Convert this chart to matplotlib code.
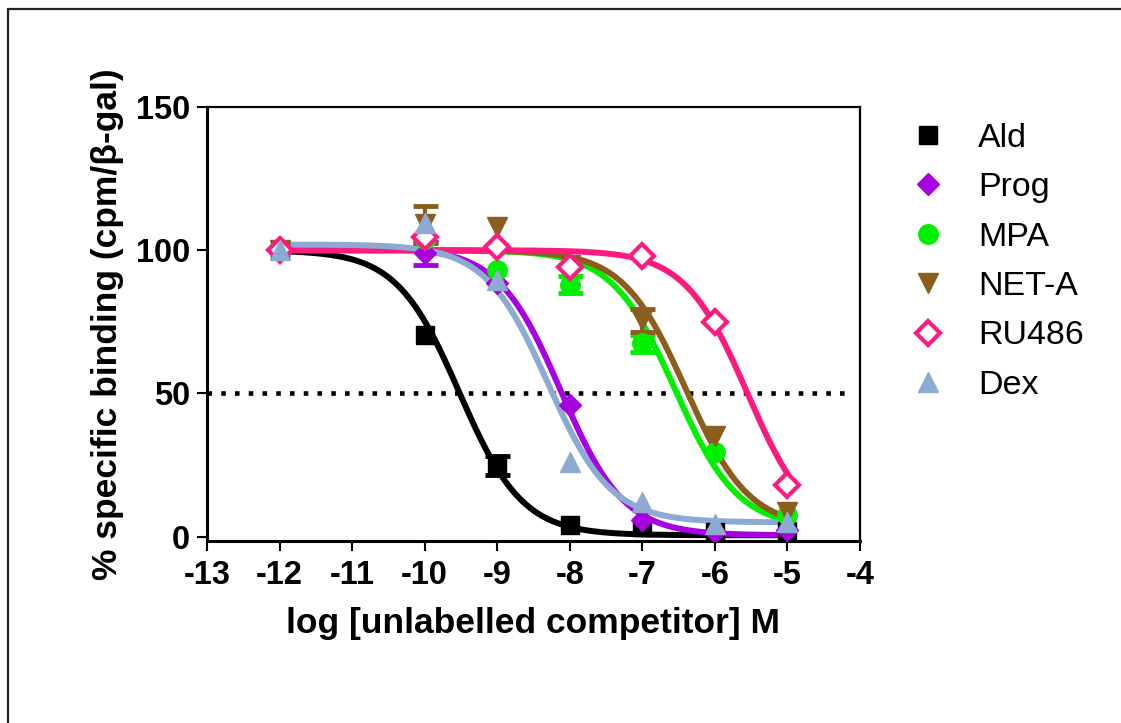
import numpy as np
import matplotlib
matplotlib.use("Agg")
import matplotlib.pyplot as plt
from matplotlib.lines import Line2D
from matplotlib.patches import Rectangle

plt.rcParams['font.family'] = ['Liberation Sans', 'DejaVu Sans']

# log concentration of competitor
log_conc = [-12, -10, -9, -8, -7, -6, -5]

names = ["Ald", "Prog", "MPA", "NET-A", "RU486", "Dex"]

ald = [100, 70.5, 25, 4, 3.5, 1.5, 2]
prog = [100, 99, 88.5, 46, 6, 1.7, 2.4]
mpa = [100, 104, 93, 88, 67.5, 29.5, 7.5]
neta = [100, 109, 108, 95, 75.5, 35, 8.7]
ru486 = [100, 104.5, 101, 94, 98, 75, 18]
dex = [100, 109.5, 89.5, 26, 12, 4.5, 5]

ald_err = [0, 0, 3.3, 0, 0, 0, 0]
prog_err = [0, 4, 0, 0, 0, 0, 0]
mpa_err = [0, 0, 0, 3, 3, 0, 0]
neta_err = [0, 6.5, 0, 0, 4, 0, 0]
ru486_err = [0, 0, 0, 0, 0, 0, 0]
dex_err = [0, 0, 0, 0, 0, 0, 0]

# one-site competition fit parameters (top, bottom, logIC50)
fit_top = [100, 101, 100, 100, 100, 102]
fit_bottom = [0.5, 0.5, 3, 3, 0, 5]
fit_logic50 = [-9.52, -8.12, -6.55, -6.4, -5.55, -8.3]

colors = ["black", "#A800E0", "#00F000", "#8C5E1E", "#FF1A80", "#8CAAD2"]
markers = ["s", "D", "o", "v", "D", "^"]
msizes = [12.5, 11.5, 14, 15, 12.5, 15]
filled = [True, True, True, True, False, True]

W, H = 1121, 723
fig = plt.figure(figsize=(W / 100, H / 100), dpi=100)
ax = fig.add_axes([207 / W, 1 - 541 / H, (860 - 207) / W, (541 - 107) / H])

series = [ald, prog, mpa, neta, ru486, dex]
errs = [ald_err, prog_err, mpa_err, neta_err, ru486_err, dex_err]

xx = np.linspace(-12, -5, 300)
for i, name in enumerate(names):
    c = colors[i]
    yfit = fit_bottom[i] + (fit_top[i] - fit_bottom[i]) / (1 + 10 ** (xx - fit_logic50[i]))
    ax.plot(xx, yfit, color=c, lw=4.3, zorder=2 + i * 0.1)
    e = np.array(errs[i])
    ax.errorbar(log_conc, series[i], yerr=np.where(e > 0, e, np.nan), fmt="none",
                ecolor=c, elinewidth=3, capsize=9, capthick=3.5, zorder=3 + i * 0.1)
    ax.plot(log_conc, series[i], ls="none", marker=markers[i], ms=msizes[i],
            color=c, mfc=c if filled[i] else "white", mec=c,
            mew=3 if not filled[i] else 1, zorder=4 + i * 0.1)

# 50% line
ax.plot([-13, -4.2], [50, 50], color="black", lw=3.3, ls=(0, (1, 2)), zorder=1)

ax.set_xlim(-13, -4)
ax.set_ylim(-1.5, 150)
ax.set_xticks(range(-13, -3))
ax.set_xticklabels([str(v) for v in range(-13, -3)])
ax.set_yticks([0, 50, 100, 150])
for s in ["left", "bottom"]:
    ax.spines[s].set_linewidth(2.2)
for s in ["top", "right"]:
    ax.spines[s].set_linewidth(1.6)
ax.tick_params(axis="both", direction="out", length=7, width=1.5, labelsize=23.5, pad=5)
ax.tick_params(axis="x", pad=7)
for lab in ax.get_xticklabels() + ax.get_yticklabels():
    lab.set_fontweight("bold")

ax.set_xlabel("log [unlabelled competitor] M", fontsize=25.5, fontweight="bold")
ax.xaxis.set_label_coords(0.5, -0.152)
ax.set_ylabel("% specific binding (cpm/β-gal)", fontsize=25.5, fontweight="bold")
ax.yaxis.set_label_coords(-0.127, 0.5)

handles = []
for i, name in enumerate(names):
    c = colors[i]
    handles.append(Line2D([], [], ls="none", marker=markers[i], ms=msizes[i], color=c,
                          mfc=c if filled[i] else "white", mec=c,
                          mew=3 if not filled[i] else 1, label=name))
fig.legend(handles=handles, loc="upper left", bbox_to_anchor=(911 / W, 1 - 123 / H),
           frameon=False, fontsize=24.5, handlelength=1.0, handletextpad=0.97,
           labelspacing=0.54, borderpad=0, borderaxespad=0)

# outer frame
fig.patches.append(Rectangle((8 / W, -0.05), 1.1, 1 - 9 / H + 0.05, fill=False,
                             lw=1.6, ec="#222222", transform=fig.transFigure))

fig.savefig("out.png", dpi=100)
